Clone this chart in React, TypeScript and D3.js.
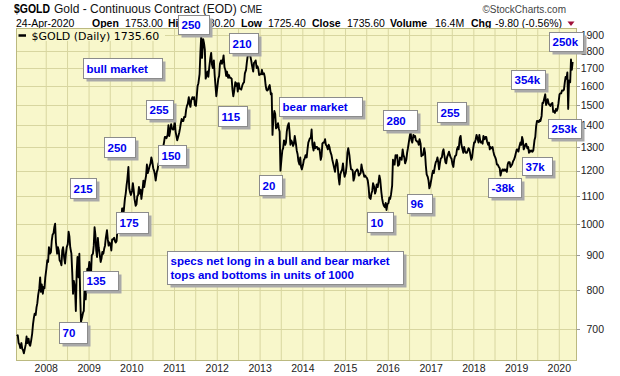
import React from "react";
import * as d3 from "d3";

// ---------- data (closing prices, 4 samples per month on days 3/10/17/24) ----------
const slotDays = [3, 10, 17, 24];

const gold2007 = [684,
  686, 668, 665, 657, 668, 655, 652, 645, 656, 665, 683, 668, 678, 665, 662, 672,
  690, 712, 727, 738, 735, 754, 765, 786, 805, 835, 795, 815, 790, 808, 805, 835];
const gold2008 = [862, 885, 880, 925, 905, 910, 945, 965, 970, 990, 1002, 940,
  905, 925, 915, 885, 880, 870, 915, 925, 890, 875, 905, 925,
  935, 975, 960, 925, 905, 850, 790, 825, 805, 745, 850, 895,
  835, 905, 785, 718, 730, 740, 745, 815, 775, 815, 860, 845];
const gold2009 = [880, 855, 840, 900, 905, 930, 990, 965, 915, 895, 955, 925,
  900, 880, 890, 910, 905, 920, 930, 955, 980, 950, 930, 940,
  935, 915, 950, 950, 955, 945, 940, 945, 995, 1005, 1015, 995,
  1005, 1055, 1055, 1045, 1090, 1110, 1140, 1165, 1215, 1130, 1115, 1105];
const gold2010 = [1120, 1150, 1125, 1090, 1065, 1070, 1100, 1105, 1135, 1110, 1125, 1090,
  1125, 1160, 1135, 1155, 1180, 1225, 1190, 1200, 1220, 1230, 1255, 1240,
  1210, 1200, 1185, 1160, 1195, 1205, 1230, 1235, 1250, 1245, 1275, 1295,
  1320, 1345, 1345, 1340, 1355, 1400, 1350, 1370, 1405, 1385, 1380, 1380];
const gold2011 = [1420, 1370, 1350, 1330, 1350, 1365, 1385, 1410, 1430, 1420, 1420, 1440,
  1440, 1475, 1495, 1505, 1540, 1505, 1490, 1525, 1540, 1530, 1540, 1500,
  1495, 1545, 1600, 1615, 1665, 1790, 1895, 1760, 1875, 1850, 1810, 1640,
  1660, 1680, 1650, 1700, 1760, 1790, 1720, 1700, 1745, 1660, 1600, 1545];
const gold2012 = [1600, 1640, 1655, 1725, 1745, 1725, 1740, 1775, 1705, 1690, 1655, 1680,
  1645, 1660, 1645, 1645, 1640, 1580, 1545, 1570, 1620, 1600, 1615, 1570,
  1615, 1585, 1585, 1580, 1605, 1615, 1620, 1670, 1690, 1735, 1770, 1775,
  1780, 1770, 1745, 1715, 1680, 1730, 1735, 1745, 1700, 1710, 1695, 1660];
const gold2013 = [1665, 1665, 1690, 1665, 1670, 1650, 1605, 1580, 1575, 1580, 1595, 1605,
  1555, 1560, 1355, 1430, 1470, 1455, 1385, 1390, 1410, 1385, 1370, 1200,
  1250, 1285, 1295, 1330, 1310, 1320, 1370, 1395, 1410, 1365, 1310, 1330,
  1320, 1305, 1315, 1350, 1315, 1285, 1270, 1240, 1225, 1255, 1215, 1205];
const gold2014 = [1225, 1245, 1250, 1265, 1255, 1290, 1320, 1330, 1340, 1340, 1380, 1310,
  1285, 1320, 1295, 1300, 1300, 1290, 1295, 1290, 1245, 1260, 1315, 1320,
  1320, 1335, 1310, 1305, 1290, 1310, 1300, 1280, 1265, 1245, 1230, 1215,
  1195, 1225, 1245, 1230, 1170, 1145, 1185, 1195, 1205, 1230, 1195, 1175];
const gold2015 = [1190, 1220, 1275, 1295, 1265, 1230, 1205, 1205, 1200, 1160, 1170, 1195,
  1200, 1205, 1200, 1180, 1185, 1190, 1225, 1205, 1190, 1175, 1180, 1175,
  1170, 1160, 1135, 1095, 1090, 1110, 1120, 1150, 1135, 1110, 1120, 1145,
  1135, 1155, 1180, 1165, 1115, 1090, 1075, 1065, 1060, 1075, 1050, 1070];
const gold2016 = [1075, 1095, 1090, 1105, 1140, 1245, 1225, 1225, 1265, 1255, 1265, 1220,
  1225, 1255, 1250, 1245, 1290, 1265, 1255, 1230, 1245, 1275, 1295, 1320,
  1350, 1368, 1330, 1320, 1355, 1345, 1350, 1330, 1325, 1325, 1310, 1335,
  1315, 1260, 1265, 1265, 1295, 1275, 1220, 1185, 1175, 1160, 1130, 1140];
const gold2017 = [1165, 1185, 1200, 1190, 1220, 1235, 1240, 1255, 1235, 1205, 1230, 1250,
  1255, 1280, 1290, 1265, 1235, 1230, 1255, 1265, 1280, 1265, 1255, 1250,
  1225, 1215, 1245, 1260, 1265, 1290, 1300, 1290, 1340, 1350, 1310, 1295,
  1275, 1300, 1285, 1275, 1275, 1285, 1295, 1290, 1265, 1245, 1255, 1285];
const gold2018 = [1320, 1320, 1335, 1355, 1335, 1320, 1355, 1330, 1320, 1325, 1315, 1350,
  1335, 1345, 1345, 1325, 1310, 1320, 1290, 1300, 1295, 1300, 1280, 1265,
  1255, 1245, 1225, 1225, 1215, 1210, 1180, 1195, 1205, 1200, 1205, 1200,
  1205, 1195, 1225, 1235, 1235, 1215, 1220, 1225, 1240, 1245, 1255, 1270];
const gold2019 = [1290, 1290, 1280, 1300, 1320, 1310, 1345, 1330, 1290, 1300, 1310, 1315,
  1295, 1300, 1275, 1285, 1280, 1285, 1280, 1285, 1330, 1345, 1395, 1420,
  1420, 1415, 1425, 1420, 1445, 1510, 1510, 1530, 1555, 1500, 1515, 1530,
  1505, 1500, 1495, 1505, 1510, 1465, 1470, 1460, 1480, 1470, 1480, 1505];
const gold2020 = [1555, 1560, 1560, 1575, 1575, 1580, 1620, 1650, 1640, 1675, 1480, 1630,
  1620, 1750, 1690, 1735.6];

// year, first month index (0-based), first slot index, values
const yearSeries: [number, number, number, number[]][] = [
  [2007, 3, 3, gold2007], [2008, 0, 0, gold2008], [2009, 0, 0, gold2009],
  [2010, 0, 0, gold2010], [2011, 0, 0, gold2011], [2012, 0, 0, gold2012],
  [2013, 0, 0, gold2013], [2014, 0, 0, gold2014], [2015, 0, 0, gold2015],
  [2016, 0, 0, gold2016], [2017, 0, 0, gold2017], [2018, 0, 0, gold2018],
  [2019, 0, 0, gold2019], [2020, 0, 0, gold2020],
];

const priceTicks = [700, 800, 900, 1000, 1100, 1200, 1300, 1400, 1500, 1600, 1700, 1800, 1900];
const yearTicks = [2008, 2009, 2010, 2011, 2012, 2013, 2014, 2015, 2016, 2017, 2018, 2019, 2020];

// callouts anchored (top-left) at a date / price
const calloutText = ["250", "bull market", "255", "250", "150", "215", "175", "135", "70",
  "specs net long in a bull and bear market|tops and bottoms in units of 1000",
  "115", "210", "20", "bear market", "280", "255", "10", "96", "-38k", "37k", "253k", "354k", "250k"];
const calloutDate = ["2011-01-30", "2008-11-09", "2010-05-01", "2009-05-08", "2010-08-12", "2008-07-22",
  "2009-08-19", "2008-11-09", "2008-04-19", "2010-10-28", "2012-01-07", "2012-04-10", "2012-12-22",
  "2013-06-12", "2015-11-16", "2017-02-21", "2015-07-02", "2016-06-09", "2018-05-01", "2019-02-16",
  "2019-09-26", "2018-11-14", "2019-10-05"];
const calloutPrice = [2036, 1759, 1525, 1345, 1309, 1170, 1043, 853, 717.6, 913.3, 1494.6, 1915,
  1182, 1541, 1474.5, 1514.5, 1043, 1108.4, 1170, 1256.8, 1430, 1689, 1921.6];
const calloutSize: [number, number][] = [[31, 19], [79, 20], [27, 19], [31, 20], [28, 20], [26, 20],
  [32, 21], [35, 19], [28, 21], [236, 33], [29, 20], [29, 20], [23, 20], [83, 19], [34, 20], [29, 20],
  [26, 20], [25, 19], [33, 19], [30, 18], [33, 19], [34, 19], [34, 19]];

// ---------- layout ----------
const W = 620, H = 376;
const plot = { left: 16.5, right: 576.5, top: 28.5, bottom: 360.5 };
const BG = "#f8f7cb", GRID = "#d8d6a0", BORDER = "#bbb980";
const BLUE = "#0000ee";

type Pt = { date: Date; v: number };

export default function App() {
  const points: Pt[] = [];
  yearSeries.forEach(([yr, m0, s0, vals]) => {
    vals.forEach((v, i) => {
      const g = m0 * 4 + s0 + i;
      points.push({ date: new Date(yr, Math.floor(g / 4), slotDays[g % 4]), v });
    });
  });

  const x = d3.scaleTime().domain([new Date(2007, 3, 22), new Date(2020, 4, 27)]).range([plot.left, plot.right]);
  const y = d3.scaleLog().domain([629.6, 1944.7]).range([plot.bottom, plot.top]);
  const line = d3.line<Pt>().x((d) => x(d.date)).y((d) => y(d.v));

  const vGrid: number[] = [];
  yearTicks.forEach((yr) => {
    [0, 6].forEach((m) => {
      const px = x(new Date(yr, m, 1));
      if (px > plot.left && px < plot.right) vGrid.push(px);
    });
  });

  const sans = "'Liberation Sans', Arial, sans-serif";

  return (
    <svg width={W} height={H} viewBox={`0 0 ${W} ${H}`} style={{ position: "absolute", left: 0, top: 0, background: "#fff" }}>
      <rect x={0} y={0} width={W} height={H} fill="#fff" />
      {/* header */}
      <text x={14} y={13} fontFamily={sans} fontWeight="bold" fontSize={13} textLength={36} lengthAdjust="spacingAndGlyphs" fill="#000">$GOLD</text>
      <text x={54} y={13} fontFamily={sans} fontSize={12} fill="#111">Gold - Continuous Contract (EOD)</text>
      <text x={240} y={13} fontFamily={sans} fontSize={10} fill="#111">CME</text>
      <text x={566} y={13} textAnchor="end" fontFamily={sans} fontSize={10} fill="#444">©StockCharts.com</text>
      <g fontFamily={sans} fontSize={10.5} fill="#000">
        <text x={16} y={26.5}>24-Apr-2020</text>
        <text x={92} y={26.5} fontWeight="bold">Open</text>
        <text x={125} y={26.5}>1753.00</text>
        <text x={168} y={26.5} fontWeight="bold">High</text>
        <text x={197} y={26.5}>1780.20</text>
        <text x={241} y={26.5} fontWeight="bold">Low</text>
        <text x={268} y={26.5}>1725.40</text>
        <text x={312} y={26.5} fontWeight="bold">Close</text>
        <text x={347} y={26.5}>1735.60</text>
        <text x={390} y={26.5} fontWeight="bold">Volume</text>
        <text x={435} y={26.5}>16.4M</text>
        <text x={471} y={26.5} fontWeight="bold">Chg</text>
        <text x={495} y={26.5}>-9.80 (-0.56%)</text>
      </g>
      <path d="M567.5,21.5 L574.5,21.5 L571,26 Z" fill="#a0103a" />

      {/* plot */}
      <rect x={plot.left} y={plot.top} width={plot.right - plot.left} height={plot.bottom - plot.top} fill={BG} />
      {vGrid.map((px, i) => (
        <line key={"v" + i} x1={px} x2={px} y1={plot.top} y2={plot.bottom} stroke={GRID} strokeWidth={1} />
      ))}
      {priceTicks.map((v) => (
        <line key={"h" + v} x1={plot.left} x2={plot.right} y1={Math.round(y(v)) + 0.5} y2={Math.round(y(v)) + 0.5} stroke={GRID} strokeWidth={1} />
      ))}
      <rect x={plot.left} y={plot.top} width={plot.right - plot.left} height={plot.bottom - plot.top} fill="none" stroke={BORDER} />
      {/* legend */}
      <rect x={plot.left + 0.5} y={plot.top + 0.5} width={148} height={12} fill={BG} />
      <line x1={18.5} x2={26} y1={35.5} y2={35.5} stroke="#000" strokeWidth={2.5} />
      <text x={31.5} y={39.5} fontFamily="'DejaVu Sans', Verdana, sans-serif" fontSize={11} fill="#000">$GOLD (Daily) 1735.60</text>

      {/* price line */}
      <path d={line(points) || ""} fill="none" stroke="#000" strokeWidth={1.9} strokeLinejoin="round" />

      {/* right axis */}
      {priceTicks.map((v) => (
        <g key={"t" + v}>
          <line x1={plot.right} x2={plot.right + 3.5} y1={Math.round(y(v)) + 0.5} y2={Math.round(y(v)) + 0.5} stroke="#999" />
          <text x={604} y={y(v) + 3.8} textAnchor="end" fontFamily={sans} fontSize={10.5} fill="#222">{v}</text>
        </g>
      ))}
      {/* bottom axis */}
      {yearTicks.map((yr) => (
        <text key={"y" + yr} x={x(new Date(yr, 0, 1))} y={372} textAnchor="middle" fontFamily={sans} fontSize={10.5} fill="#222">{yr}</text>
      ))}

      {/* callouts */}
      {calloutText.map((t, i) => {
        const bx = Math.round(x(new Date(calloutDate[i] + "T00:00:00"))) + 0.5;
        const by = Math.round(y(calloutPrice[i])) + 0.5;
        const [w, h] = calloutSize[i];
        const lines = t.split("|");
        return (
          <g key={"c" + i}>
            <rect x={bx + 3} y={by + 3} width={w} height={h} fill="#a9a9a9" />
            <rect x={bx} y={by} width={w} height={h} fill="#fff" stroke="#8c8c8c" />
            {lines.map((s, j) => (
              <text key={j} x={bx + 3} y={lines.length === 1 ? by + h / 2 + 4.3 : by + 13 + j * 14}
                fontFamily={sans} fontWeight="bold" fontSize={11.5} fill={BLUE}>{s}</text>
            ))}
          </g>
        );
      })}
    </svg>
  );
}
